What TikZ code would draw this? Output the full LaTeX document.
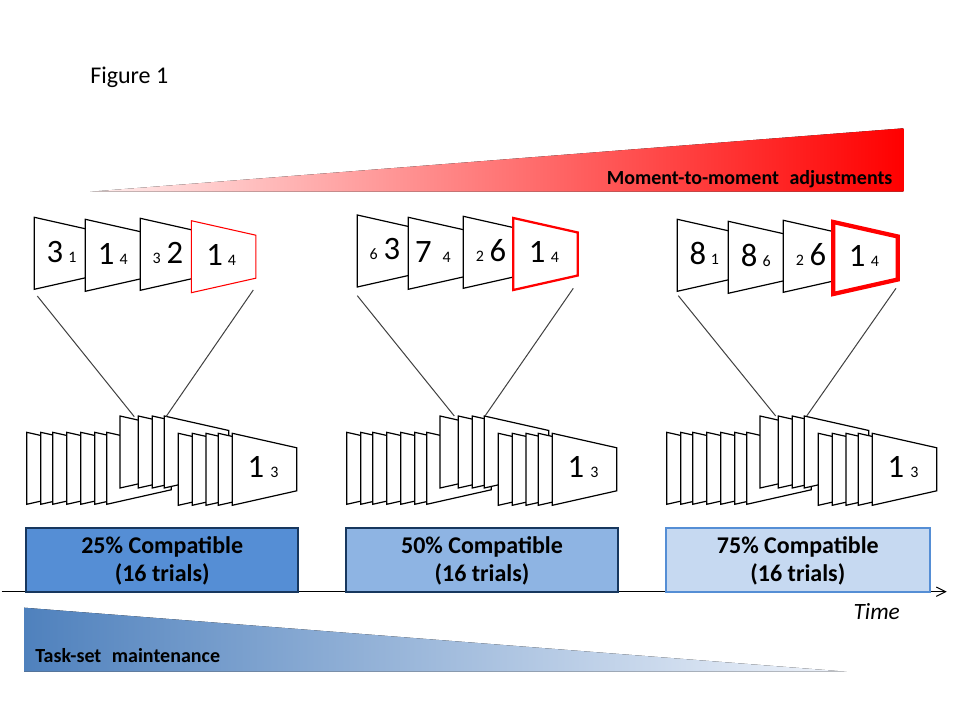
\documentclass[tikz,border=0pt]{standalone}
\usepackage{fontspec}
\setmainfont{Carlito}
\usetikzlibrary{arrows.meta}
\definecolor{boxA}{RGB}{85,142,213}
\definecolor{boxB}{RGB}{142,180,227}
\definecolor{boxC}{RGB}{198,217,241}
\definecolor{navy}{RGB}{23,55,94}
\definecolor{lineg}{RGB}{64,64,64}
\definecolor{blueL}{RGB}{79,129,189}
\definecolor{blueM}{RGB}{185,204,234}
\definecolor{blueR}{RGB}{240,244,251}
\definecolor{redL}{RGB}{255,238,238}
\definecolor{redM}{RGB}{250,170,170}
\newcommand{\mycard}[4]{%
  \path (#2,#3) coordinate (#1-tl) ++(64.5,14.5) coordinate (#1-tr)
        ++(0,43) coordinate (#1-br) ++(-64.5,14.5) coordinate (#1-bl);
  \draw[#4] (#1-tl) -- (#1-tr) -- (#1-br) -- (#1-bl) -- cycle;}
\begin{document}
\begin{tikzpicture}[x=0.75pt,y=-0.75pt,
  cardline/.style={draw=black, fill=white, line width=0.9pt, line join=miter},
  redcard/.style={draw=red, fill=white, line join=miter},
  bigdigit/.style={anchor=base, inner sep=0pt, font=\fontsize{24.5}{28}\selectfont},
  smalldigit/.style={anchor=base, inner sep=0pt, font=\fontsize{12}{14}\selectfont},
  link/.style={draw=lineg, line width=0.75pt},
  condbox/.style={rectangle, minimum height=48pt, line width=1.5pt, inner sep=0pt},
  boxtxt/.style={anchor=base, inner sep=0pt, font=\bfseries\fontsize{18}{22}\selectfont},
  labeltxt/.style={inner sep=0pt, font=\bfseries\fontsize{15}{18}\selectfont},
]
\useasboundingbox (0,0) rectangle (960,720);
\fill[white] (0,0) rectangle (960,720);

% title
\node[anchor=base west, inner sep=0pt, font=\fontsize{18}{22}\selectfont] (title) at (90,83.3) {Figure 1};

% red wedge
\fill[left color=redL, middle color=redM, right color=red] (90,191.7) -- (903.3,128.3) -- (903.3,191.7) -- cycle;
\node[labeltxt, anchor=base east] (mom) at (892.7,184.7) {Moment-to-moment\hspace{0.3em} adjustments};

% ---- top row, panel 1
\mycard{p1c1}{34.3}{217.3}{cardline}
\mycard{p1c2}{85.3}{219.3}{cardline}
\mycard{p1c3}{140.3}{218.3}{cardline}
\mycard{p1c4}{191.3}{220.7}{redcard, line width=0.8pt}
\node[bigdigit]   (p1c1a) at (34.3+20.7,217.3+45) {3};
\node[smalldigit] (p1c1b) at (34.3+38.2,217.3+45) {1};
\node[bigdigit]   (p1c2a) at (85.3+20.9,219.3+45) {1};
\node[smalldigit] (p1c2b) at (85.3+38.4,219.3+45) {4};
\node[smalldigit] (p1c3a) at (140.3+16.4,218.3+45) {3};
\node[bigdigit]   (p1c3b) at (140.3+34.7,218.3+45) {2};
\node[bigdigit]   (p1c4a) at (191.3+23.4,220.7+45) {1};
\node[smalldigit] (p1c4b) at (191.3+40.7,220.7+45) {4};

% ---- top row, panel 2
\mycard{p2c1}{357.3}{215}{cardline}
\mycard{p2c2}{408.3}{217.3}{cardline}
\mycard{p2c3}{463.3}{216.3}{cardline}
\mycard{p2c4}{513.3}{218}{redcard, line width=1.7pt}
\node[smalldigit] (p2c1a) at (357.3+16.4,215+45) {6};
\node[bigdigit]   (p2c1b) at (357.3+34.7,215+45) {3};
\node[bigdigit]   (p2c2a) at (408.3+15,217.3+45) {7};
\node[smalldigit] (p2c2b) at (408.3+38.4,217.3+45) {4};
\node[smalldigit] (p2c3a) at (463.3+16.7,216.3+45) {2};
\node[bigdigit]   (p2c3b) at (463.3+34.7,216.3+45) {6};
\node[bigdigit]   (p2c4a) at (513.3+23.9,218+45) {1};
\node[smalldigit] (p2c4b) at (513.3+41.7,218+45) {4};

% ---- top row, panel 3
\mycard{p3c1}{677.3}{219.3}{cardline}
\mycard{p3c2}{728.3}{221.3}{cardline}
\mycard{p3c3}{783.3}{220.3}{cardline}
\mycard{p3c4}{833.3}{222}{redcard, line width=3.2pt}
\node[bigdigit]   (p3c1a) at (677.3+20.5,219.3+45) {8};
\node[smalldigit] (p3c1b) at (677.3+37.7,219.3+45) {1};
\node[bigdigit]   (p3c2a) at (728.3+20.9,221.3+45) {8};
\node[smalldigit] (p3c2b) at (728.3+38.4,221.3+45) {6};
\node[smalldigit] (p3c3a) at (783.3+16.7,220.3+45) {2};
\node[bigdigit]   (p3c3b) at (783.3+34.7,220.3+45) {6};
\node[bigdigit]   (p3c4a) at (833.3+23.9,222+45) {1};
\node[smalldigit] (p3c4b) at (833.3+41.7,222+45) {4};

% ---- bottom stacks
\foreach \dx/\p in {0/1,320/2,640/3}{
  \foreach \xx [count=\i] in {26.7,40.7,52.7,66.7,80.7,94.7,106.7}
    {\mycard{s\p a\i}{\xx+\dx}{432.3}{cardline}}
  \foreach \xx [count=\i] in {120,138.3,152.3,164.3}
    {\mycard{s\p b\i}{\xx+\dx}{416}{cardline}}
  \foreach \xx [count=\i] in {178.3,192.3,206,218.3,232.3}
    {\mycard{s\p c\i}{\xx+\dx}{433.3}{cardline}}
  \node[bigdigit]   (s\p one)   at (255.8+\dx,477.3) {1};
  \node[smalldigit] (s\p three) at (274.5+\dx,477.3) {3};
}

% ---- zoom connectors
\coordinate (p1la) at (37.3,296);   \coordinate (p1lb) at (134.3,416.7);
\coordinate (p1ra) at (253.3,290);  \coordinate (p1rb) at (166,416.7);
\coordinate (p2la) at (357.3,295.7);\coordinate (p2lb) at (454.3,416);
\coordinate (p2ra) at (573.3,288.3);\coordinate (p2rb) at (485,416);
\coordinate (p3la) at (678.3,295.7);\coordinate (p3lb) at (775.7,416);
\coordinate (p3ra) at (896,288.3);  \coordinate (p3rb) at (806.7,416);
\foreach \p in {1,2,3}{
  \draw[link] (p\p la) -- (p\p lb);
  \draw[link] (p\p ra) -- (p\p rb);
}

% ---- time axis
\coordinate (axs) at (1.7,591.7);
\coordinate (axe) at (946.7,591.7);
\draw[line width=0.75pt, -{Straight Barb[length=7pt,width=7pt]}] (axs) -- (axe);
\node[anchor=base, inner sep=0pt, font=\itshape\fontsize{17.5}{21}\selectfont] (time) at (876.7,619) {Time};

% ---- condition boxes
\node[condbox, draw=navy, fill=boxA, minimum width=204.2pt] (box1) at (162.2,559.7) {};
\node[condbox, draw=navy, fill=boxB, minimum width=204.45pt] (box2) at (482,559.7) {};
\node[condbox, draw=boxA, fill=boxC, minimum width=198.2pt] (box3) at (797.85,559.7) {};
\node[boxtxt] (b1a) at (162.2,553.3) {25\% Compatible};
\node[boxtxt] (b1b) at (162.2,581.7) {(16 trials)};
\node[boxtxt] (b2a) at (482,553.3) {50\% Compatible};
\node[boxtxt] (b2b) at (482,581.7) {(16 trials)};
\node[boxtxt] (b3a) at (797.85,553.3) {75\% Compatible};
\node[boxtxt] (b3b) at (797.85,581.7) {(16 trials)};

% ---- blue wedge
\fill[left color=blueL, middle color=blueM, right color=blueR] (24,607.7) -- (846.7,671.7) -- (24,671.7) -- cycle;
\node[labeltxt, anchor=base west] (task) at (35,662.7) {Task-set\hspace{0.3em} maintenance};
\end{tikzpicture}
\end{document}
